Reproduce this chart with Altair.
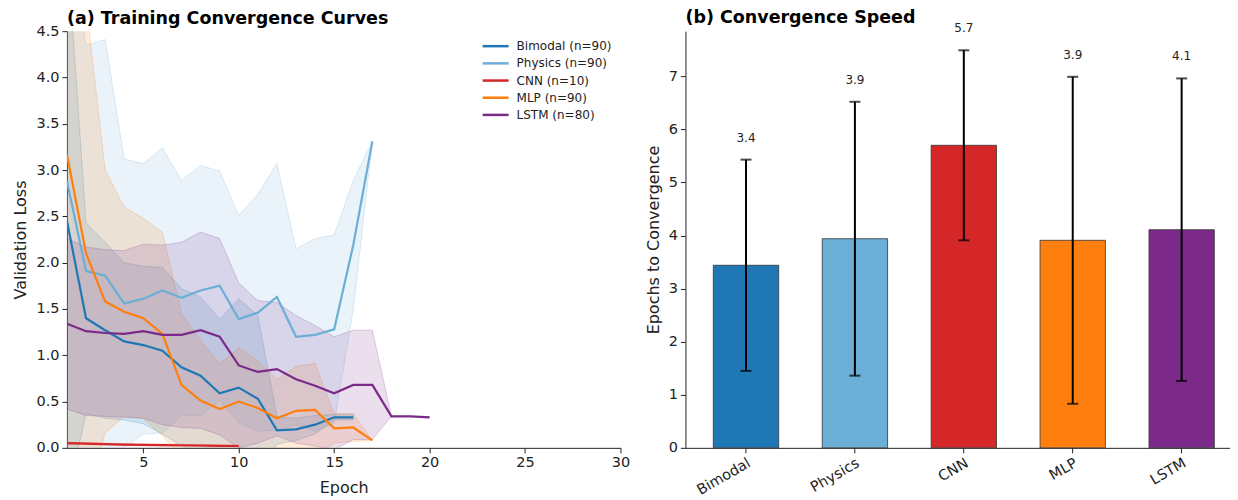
import altair as alt
import pandas as pd

# ---------------- data ----------------
series_labels = ["Bimodal (n=90)", "Physics (n=90)", "CNN (n=10)", "MLP (n=90)", "LSTM (n=80)"]
series_colors = ["#1f77b4", "#6baed6", "#d62728", "#ff7f0e", "#7b2a8a"]

bimodal_mean = [2.45, 1.40, 1.27, 1.15, 1.11, 1.05, 0.87, 0.78, 0.59, 0.65, 0.53, 0.19, 0.20, 0.25, 0.33, 0.33]
bimodal_std = [3.00, 1.03, 0.95, 0.85, 0.85, 0.90, 0.85, 0.85, 0.80, 0.96, 0.90, 0.15, 0.12, 0.10, 0.03, 0.03]

physics_mean = [2.88, 1.91, 1.86, 1.56, 1.61, 1.70, 1.62, 1.70, 1.75, 1.39, 1.46, 1.63, 1.20, 1.22, 1.28, 2.19, 3.31]
physics_std = [2.90, 2.44, 2.55, 1.56, 1.46, 1.54, 1.27, 1.35, 1.24, 1.12, 1.28, 1.44, 0.95, 1.04, 1.02, 0.70, 0.00]

cnn_mean = [0.050, 0.045, 0.040, 0.035, 0.032, 0.030, 0.028, 0.025, 0.022, 0.020]
cnn_std = [0.010, 0.010, 0.010, 0.010, 0.010, 0.010, 0.010, 0.010, 0.010, 0.010]

mlp_mean = [3.17, 2.10, 1.58, 1.47, 1.40, 1.23, 0.68, 0.51, 0.42, 0.50, 0.43, 0.32, 0.40, 0.41, 0.21, 0.22, 0.08]
mlp_std = [3.50, 2.70, 1.42, 1.13, 1.08, 1.10, 0.77, 0.65, 0.49, 0.58, 0.51, 0.42, 0.48, 0.50, 0.16, 0.15, 0.00]

lstm_mean = [1.34, 1.26, 1.24, 1.23, 1.26, 1.22, 1.22, 1.27, 1.20, 0.89, 0.82, 0.85, 0.74, 0.67, 0.59, 0.68, 0.68, 0.34, 0.34, 0.33]
lstm_std = [0.92, 0.91, 0.90, 0.90, 0.94, 0.97, 1.00, 1.06, 1.06, 0.89, 0.77, 0.72, 0.69, 0.65, 0.61, 0.59, 0.59, 0.00, 0.00, 0.00]

models = ["Bimodal", "Physics", "CNN", "MLP", "LSTM"]
bar_colors = ["#1f77b4", "#6baed6", "#d62728", "#ff7f0e", "#7b2a8a"]
conv_mean = [3.44, 3.94, 5.70, 3.91, 4.11]
conv_std = [1.99, 2.58, 1.79, 3.08, 2.85]

x_ticks = [5, 10, 15, 20, 25, 30]
y_ticks_left = [0.0, 0.5, 1.0, 1.5, 2.0, 2.5, 3.0, 3.5, 4.0, 4.5]
y_ticks_right = [0, 1, 2, 3, 4, 5, 6, 7]

# ---------------- tables ----------------
rows = []
for lab, means, stds in zip(series_labels,
                            [bimodal_mean, physics_mean, cnn_mean, mlp_mean, lstm_mean],
                            [bimodal_std, physics_std, cnn_std, mlp_std, lstm_std]):
    for i, (m, s) in enumerate(zip(means, stds)):
        rows.append({"series": lab, "epoch": i + 1, "mean": m, "lo": m - s, "hi": m + s})
curves = pd.DataFrame(rows)

bars = pd.DataFrame({"model": models, "mean": conv_mean, "std": conv_std})
bars["lo"] = bars["mean"] - bars["std"]
bars["hi"] = bars["mean"] + bars["std"]

# ---------------- left panel ----------------
x_enc = alt.X("epoch:Q", scale=alt.Scale(domain=[1, 30], nice=False, zero=False),
              axis=alt.Axis(values=x_ticks, title="Epoch", titlePadding=10))
y_scale = alt.Scale(domain=[0, 4.5], nice=False)

band = alt.Chart(curves).mark_area(clip=True, fillOpacity=0.15, strokeOpacity=0.22, strokeWidth=1).encode(
    x=x_enc,
    y=alt.Y("lo:Q", scale=y_scale),
    y2="hi:Q",
    fill=alt.Fill("series:N", scale=alt.Scale(domain=series_labels, range=series_colors), legend=None),
    stroke=alt.Stroke("series:N", scale=alt.Scale(domain=series_labels, range=series_colors), legend=None),
    detail="series:N",
)

lines = alt.Chart(curves).mark_line(clip=True, strokeWidth=2.2).encode(
    x=x_enc,
    y=alt.Y("mean:Q", scale=y_scale,
            axis=alt.Axis(values=y_ticks_left, format=".1f", title="Validation Loss")),
    stroke=alt.Stroke("series:N", scale=alt.Scale(domain=series_labels, range=series_colors),
                      legend=alt.Legend(title=None, orient="none", legendX=419, legendY=5,
                                        symbolType="M-1.53,0H1.53", symbolStrokeWidth=2.5,
                                        symbolSize=289, labelFontSize=12, rowPadding=1.2,
                                        labelOffset=11, labelColor="#222")),
)

left = alt.layer(band, lines).resolve_legend(stroke="independent").properties(
    width=554, height=417,
    title=alt.TitleParams("(a) Training Convergence Curves", anchor="start", frame="group",
                          fontSize=17.5, fontWeight="bold", offset=-4),
)

# ---------------- right panel ----------------
xb = alt.X("model:N", sort=models,
           scale=alt.Scale(paddingInner=0.4, paddingOuter=0.2, align=0.64),
           axis=alt.Axis(title=None, labelAngle=-30, labelAlign="right", labelBaseline="top"))
yb_scale = alt.Scale(domain=[0, 7.85], nice=False)

barmark = alt.Chart(bars).mark_bar(stroke="#333333", strokeWidth=0.8).encode(
    x=xb,
    y=alt.Y("mean:Q", scale=yb_scale, axis=alt.Axis(values=y_ticks_right, title="Epochs to Convergence")),
    fill=alt.Fill("model:N", scale=alt.Scale(domain=models, range=bar_colors), legend=None),
)
err = alt.Chart(bars).mark_rule(color="black", strokeWidth=2).encode(
    x=xb, y=alt.Y("lo:Q", scale=yb_scale), y2="hi:Q")
cap_lo = alt.Chart(bars).mark_tick(color="black", thickness=2, size=11).encode(
    x=xb, y=alt.Y("lo:Q", scale=yb_scale))
cap_hi = alt.Chart(bars).mark_tick(color="black", thickness=2, size=11).encode(
    x=xb, y=alt.Y("hi:Q", scale=yb_scale))
labels = alt.Chart(bars).mark_text(dy=-22, fontSize=12, color="#222", baseline="middle").encode(
    x=xb, y=alt.Y("hi:Q", scale=yb_scale), text=alt.Text("mean:Q", format=".1f"))

right = alt.layer(barmark, err, cap_lo, cap_hi, labels).properties(
    width=545, height=417,
    title=alt.TitleParams("(b) Convergence Speed", anchor="start", frame="group",
                          fontSize=17.5, fontWeight="bold", offset=-4),
)

chart = alt.hconcat(left, right, spacing=14).configure(
    font="DejaVu Sans",
    padding={"left": 4, "top": 0, "right": 0, "bottom": 0},
).configure_view(stroke=None).configure_axis(
    labelFontSize=14.5, titleFontSize=16, titleFontWeight="normal", labelColor="#222",
    titleColor="#222", domainColor="#222", tickColor="#222", grid=False,
    tickSize=5, labelPadding=3, titlePadding=7, labelFlush=False,
)

chart.save("out.html", embed_options={"renderer": "svg", "actions": False})
